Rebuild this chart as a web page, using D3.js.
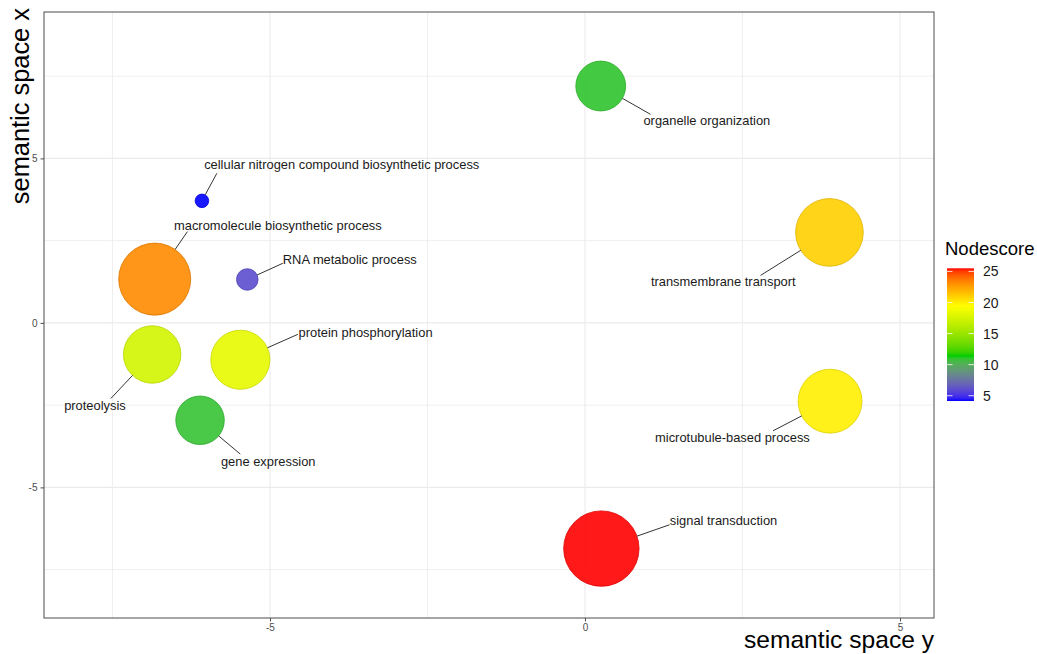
<!DOCTYPE html>
<html>
<head>
<meta charset="utf-8">
<script src="https://cdn.jsdelivr.net/npm/d3@7"></script>
<style>
  html, body { margin: 0; padding: 0; background: #fff; }
  svg { display: block; font-family: "Liberation Sans", Arial, sans-serif; }
</style>
</head>
<body>
<svg id="chart" width="1037" height="654"></svg>
<script>
// GO terms in semantic space
const terms = [
  "organelle organization",
  "transmembrane transport",
  "microtubule-based process",
  "signal transduction",
  "cellular nitrogen compound biosynthetic process",
  "macromolecule biosynthetic process",
  "RNA metabolic process",
  "protein phosphorylation",
  "proteolysis",
  "gene expression"
];
const semanticY = [0.25, 3.88, 3.89, 0.26, -6.08, -6.83, -5.36, -5.47, -6.87, -6.11]; // horizontal
const semanticX = [7.20, 2.75, -2.38, -6.86, 3.71, 1.33, 1.32, -1.12, -0.96, -2.96]; // vertical
const nodescore = [11.0, 21.0, 19.9, 25.5, 4.15, 23.2, 6.0, 18.3, 17.4, 10.9];
const termSize = [1.55, 2.86, 2.55, 3.55, 0.115, 3.24, 0.29, 2.18, 2.06, 1.47];

const xTicks = [-5, 0, 5];
const yTicks = [-5, 0, 5];
const legendTicks = [5, 10, 15, 20, 25];

// label placement relative to each point (pixels): text start, leader end
const labelLayout = [
  { tx: 42.7,  ty: 34,    ex: 49.8,  ey: 28.3 },
  { tx: -178.5, ty: 49.5, ex: -68.9, ey: 43 },
  { tx: -175,  ty: 36.6,  ex: -57,   ey: 29.6 },
  { tx: 68.4,  ty: -28.2, ex: 68.1,  ey: -23.8 },
  { tx: 2.2,   ty: -36.5, ex: 14.9,  ey: -27.5 },
  { tx: 19.3,  ty: -53.2, ex: 32.7,  ey: -47.5 },
  { tx: 35.5,  ty: -19.5, ex: 35.5,  ey: -16.2 },
  { tx: 58.2,  ty: -27,   ex: 57.5,  ey: -25.4 },
  { tx: -88,   ty: 51.3,  ex: -41.3, ey: 44 },
  { tx: 20.9,  ty: 41.2,  ex: 40.2,  ey: 33.8 }
];

const data = terms.map((t, i) => ({
  term: t, sy: semanticY[i], sx: semanticX[i],
  score: nodescore[i], size: termSize[i], lab: labelLayout[i]
}));

const svg = d3.select("#chart");
const panel = { left: 44, right: 934, top: 12, bottom: 618 };

const x = d3.scaleLinear().domain([-8.587, 5.54]).range([panel.left, panel.right]);
const y = d3.scaleLinear().domain([-8.97, 9.45]).range([panel.bottom, panel.top]);
const r = d3.scaleSqrt().domain([0, d3.max(termSize)]).range([0, 37.7]);

const [sMin, sMax] = d3.extent(nodescore);
const colour = d3.scaleLinear()
  .domain([sMin, 11.4, 19.4, sMax])
  .range(["#0000FF", "#00CD00", "#FFFF00", "#FF0000"])
  .interpolate(d3.interpolateLab);

// panel background and grid
svg.append("rect")
  .attr("x", panel.left).attr("y", panel.top)
  .attr("width", panel.right - panel.left).attr("height", panel.bottom - panel.top)
  .attr("fill", "#fff");

const minorX = [-7.5, -2.5, 2.5];
const minorY = [-7.5, -2.5, 2.5, 7.5];
const grid = svg.append("g").attr("stroke", "#EBEBEB").attr("fill", "none");
minorX.forEach(v => grid.append("line").attr("x1", x(v)).attr("x2", x(v))
  .attr("y1", panel.top).attr("y2", panel.bottom).attr("stroke-width", 0.8));
minorY.forEach(v => grid.append("line").attr("y1", y(v)).attr("y2", y(v))
  .attr("x1", panel.left).attr("x2", panel.right).attr("stroke-width", 0.8));
xTicks.forEach(v => grid.append("line").attr("x1", x(v)).attr("x2", x(v))
  .attr("y1", panel.top).attr("y2", panel.bottom).attr("stroke-width", 1.1));
yTicks.forEach(v => grid.append("line").attr("y1", y(v)).attr("y2", y(v))
  .attr("x1", panel.left).attr("x2", panel.right).attr("stroke-width", 1.1));

// bubbles, largest first
const sorted = data.slice().sort((a, b) => b.size - a.size);
svg.append("g").selectAll("circle").data(sorted).join("circle")
  .attr("cx", d => x(d.sy))
  .attr("cy", d => y(d.sx))
  .attr("r", d => r(d.size))
  .attr("fill", d => colour(d.score))
  .attr("fill-opacity", 0.9)
  .attr("stroke", d => d3.color(colour(d.score)).darker(0.4))
  .attr("stroke-opacity", 0.8)
  .attr("stroke-width", 1);

// leader lines and labels
const labels = svg.append("g");
data.forEach(d => {
  const cx = x(d.sy), cy = y(d.sx), rad = r(d.size);
  const ex = cx + d.lab.ex, ey = cy + d.lab.ey;
  const len = Math.hypot(d.lab.ex, d.lab.ey);
  const sx = cx + d.lab.ex / len * rad, sy = cy + d.lab.ey / len * rad;
  labels.append("line")
    .attr("x1", sx).attr("y1", sy).attr("x2", ex).attr("y2", ey)
    .attr("stroke", "#333").attr("stroke-width", 1);
  labels.append("text")
    .attr("x", cx + d.lab.tx).attr("y", cy + d.lab.ty)
    .attr("dy", "0.35em")
    .attr("font-size", 12.9)
    .attr("fill", "#1a1a1a")
    .text(d.term);
});

// panel border
svg.append("rect")
  .attr("x", panel.left).attr("y", panel.top)
  .attr("width", panel.right - panel.left).attr("height", panel.bottom - panel.top)
  .attr("fill", "none").attr("stroke", "#4D4D4D").attr("stroke-width", 1);

// axes
const xAxis = svg.append("g").attr("transform", `translate(0,${panel.bottom})`)
  .call(d3.axisBottom(x).tickValues(xTicks).tickSize(3.5).tickPadding(2).tickFormat(d => String(d)));
const yAxis = svg.append("g").attr("transform", `translate(${panel.left},0)`)
  .call(d3.axisLeft(y).tickValues(yTicks).tickSize(3.5).tickPadding(3).tickFormat(d => String(d)));
[xAxis, yAxis].forEach(a => {
  a.select(".domain").remove();
  a.selectAll(".tick line").attr("stroke", "#4D4D4D");
  a.selectAll(".tick text").attr("fill", "#4D4D4D").attr("font-size", 10)
    .attr("font-family", "Liberation Sans, Arial, sans-serif");
});

// axis titles
svg.append("text")
  .attr("x", panel.right).attr("y", 647.5)
  .attr("text-anchor", "end")
  .attr("font-size", 24.6)
  .attr("fill", "#000")
  .text("semantic space y");
svg.append("text")
  .attr("transform", `translate(29,8) rotate(-90)`)
  .attr("text-anchor", "end")
  .attr("font-size", 25.4)
  .attr("fill", "#000")
  .text("semantic space x");

// colour bar legend
const bar = { x: 947, w: 27, top: 268.3, bottom: 401 };
const ly = d3.scaleLinear().domain([sMin, sMax]).range([bar.bottom, bar.top]);
const defs = svg.append("defs");
const grad = defs.append("linearGradient").attr("id", "nodescore-grad")
  .attr("x1", 0).attr("y1", 1).attr("x2", 0).attr("y2", 0);
d3.range(0, 1.0001, 0.02).forEach(t => {
  grad.append("stop").attr("offset", t).attr("stop-color", colour(sMin + t * (sMax - sMin)));
});
svg.append("rect")
  .attr("x", bar.x).attr("y", bar.top).attr("width", bar.w).attr("height", bar.bottom - bar.top)
  .attr("fill", "url(#nodescore-grad)");
const lt = svg.append("g");
legendTicks.forEach(v => {
  lt.append("line").attr("x1", bar.x).attr("x2", bar.x + 5.5).attr("y1", ly(v)).attr("y2", ly(v))
    .attr("stroke", "#fff").attr("stroke-opacity", 0.8);
  lt.append("line").attr("x1", bar.x + bar.w - 5.5).attr("x2", bar.x + bar.w).attr("y1", ly(v)).attr("y2", ly(v))
    .attr("stroke", "#fff").attr("stroke-opacity", 0.8);
  lt.append("text").attr("x", 983).attr("y", ly(v)).attr("dy", "0.36em")
    .attr("font-size", 14).attr("fill", "#1a1a1a").text(v);
});
svg.append("text")
  .attr("x", 945).attr("y", 248).attr("dy", "0.36em")
  .attr("font-size", 18.5).attr("fill", "#000")
  .text("Nodescore");
</script>
</body>
</html>
